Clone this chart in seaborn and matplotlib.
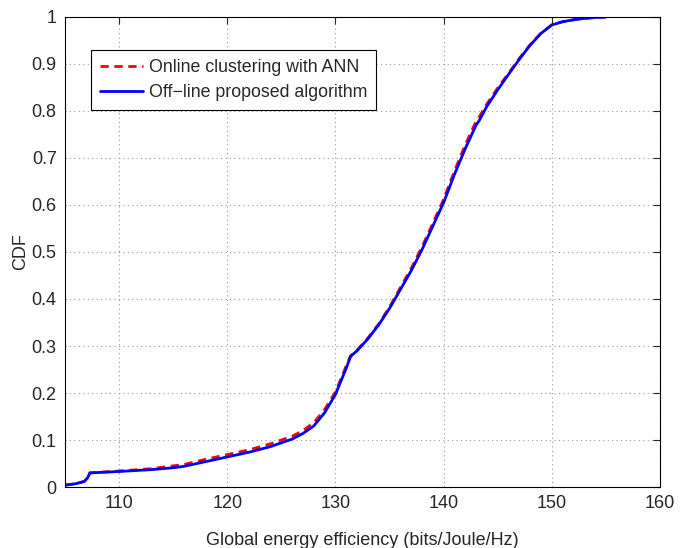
import numpy as np
import pandas as pd
import matplotlib
matplotlib.use("Agg")
import matplotlib.pyplot as plt
import seaborn as sns

sns.set_style("white")
plt.rcParams['font.family'] = ['Liberation Sans', 'DejaVu Sans']

# CDF curves
ee_offline = [105.0, 106.0, 106.8, 107.1, 107.3, 110, 113, 115, 116, 118, 120, 122, 124, 126,
              127, 128, 129, 130, 131, 131.4, 132, 133, 134, 135, 136, 137, 138, 139, 140, 141, 142,
              143, 143.3, 144, 145, 146, 147, 148, 149, 150, 151, 152, 153, 154, 155]
cdf_offline = [0.004, 0.007, 0.012, 0.020, 0.030, 0.033, 0.037, 0.041, 0.044, 0.054, 0.064, 0.074,
               0.086, 0.102, 0.114, 0.130, 0.158, 0.197, 0.253, 0.278, 0.290, 0.315, 0.345, 0.380,
               0.420, 0.460, 0.505, 0.555, 0.605, 0.665, 0.720, 0.770, 0.780, 0.810, 0.845, 0.878,
               0.910, 0.940, 0.965, 0.983, 0.990, 0.994, 0.997, 0.999, 1.0]

ee_online = [105.0, 106.0, 106.8, 107.1, 107.3, 110, 113, 115, 116, 118, 120, 122, 124, 126,
             127, 128, 129, 130, 131, 131.4, 132, 133, 134, 135, 136, 137, 138, 139, 140, 141, 142,
             143, 143.3, 144, 145, 146, 147, 148, 149, 150, 151, 152, 153, 154, 155]
cdf_online = [0.004, 0.007, 0.012, 0.020, 0.030, 0.034, 0.039, 0.045, 0.048, 0.059, 0.069, 0.079,
              0.092, 0.108, 0.120, 0.137, 0.165, 0.202, 0.258, 0.279, 0.291, 0.317, 0.347, 0.383,
              0.424, 0.465, 0.511, 0.561, 0.612, 0.672, 0.728, 0.778, 0.788, 0.815, 0.849, 0.880,
              0.912, 0.941, 0.966, 0.983, 0.990, 0.994, 0.997, 0.999, 1.0]

df = pd.concat([
    pd.DataFrame({'ee': ee_online, 'cdf': cdf_online, 'alg': 'Online clustering with ANN'}),
    pd.DataFrame({'ee': ee_offline, 'cdf': cdf_offline, 'alg': 'Off\u2212line proposed algorithm'}),
])

fig = plt.figure(figsize=(6.9, 5.48), dpi=100)
ax = fig.add_axes([0.0942, 0.1113, 0.8623, 0.8577])

sns.lineplot(data=df, x='ee', y='cdf', hue='alg', style='alg',
             palette=['#ff0000', '#0000ff'], dashes=[(3, 2), ''],
             sort=False, estimator=None, linewidth=2, ax=ax)

ax.set_xlim(105, 160)
ax.set_ylim(0, 1)
ax.set_xticks(np.arange(110, 161, 10))
ax.set_yticks(np.arange(0, 1.01, 0.1))
ax.set_yticklabels(['0', '0.1', '0.2', '0.3', '0.4', '0.5', '0.6', '0.7', '0.8', '0.9', '1'])
ax.grid(True, linestyle=(0, (1, 3)), color='#999999', linewidth=0.8)
ax.tick_params(direction='in', top=True, right=True, length=5, labelsize=13, width=0.8, pad=6)
for s in ax.spines.values():
    s.set_color('black')
    s.set_linewidth(0.8)

ax.set_xlabel('Global energy efficiency (bits/Joule/Hz)', fontsize=13, labelpad=14)
ax.set_ylabel('CDF', fontsize=13, labelpad=2)

leg = ax.legend(loc='upper left', bbox_to_anchor=(0.044, 0.93), fontsize=12.8,
                frameon=True, fancybox=False, edgecolor='black', framealpha=1,
                handlelength=2.4, handletextpad=0.35, borderpad=0.5, labelspacing=0.45,
                borderaxespad=0)
leg.get_frame().set_linewidth(0.8)

plt.savefig('out.png', dpi=100)
